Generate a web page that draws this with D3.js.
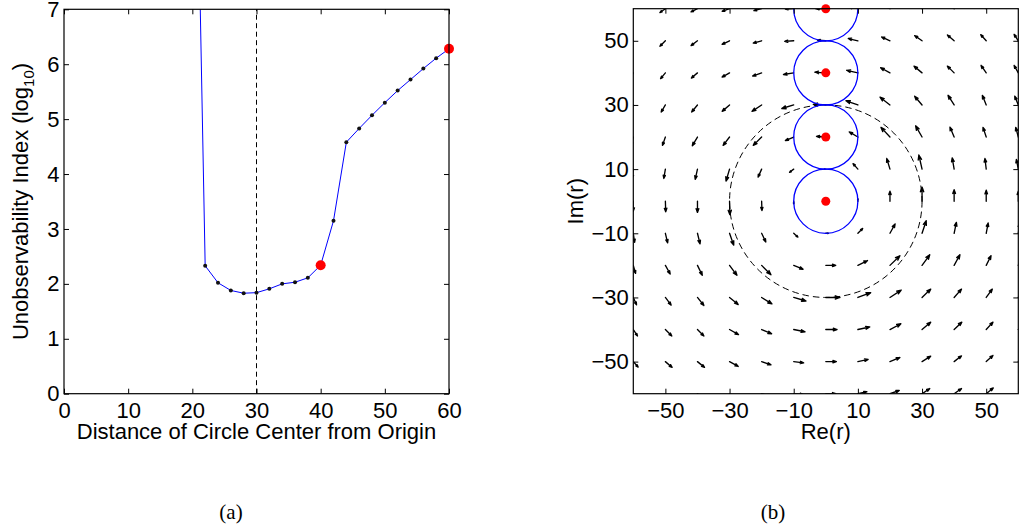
<!DOCTYPE html>
<html>
<head>
<meta charset="utf-8">
<script src="https://cdn.jsdelivr.net/npm/d3@7"></script>
<style>
  html, body { margin: 0; padding: 0; background: #fff; }
  svg { display: block; }
  text { font-family: "Liberation Sans", Arial, Helvetica, sans-serif; }
</style>
</head>
<body>
<svg id="fig" width="1019" height="529"></svg>
<script>
// ---------- (a) unobservability index vs. circle-center distance ----------
const distances = [20, 22, 24, 26, 28, 30, 32, 34, 36, 38, 40, 42, 44, 46, 48, 50, 52, 54, 56, 58, 60];
const logIndex  = [14.6, 2.33, 2.02, 1.88, 1.83, 1.84, 1.91, 2.00, 2.03, 2.11, 2.34, 3.15, 4.58, 4.83, 5.07, 5.30, 5.52, 5.72, 5.92, 6.11, 6.28];
const highlighted = [40, 60];
const referenceDistance = 30;
const xTicksA = [0, 10, 20, 30, 40, 50, 60];
const yTicksA = [0, 1, 2, 3, 4, 5, 6, 7];

// ---------- (b) vector field in the complex plane ----------
const gridRe = [-60, -50, -40, -30, -20, -10, 0, 10, 20, 30, 40, 50, 60];
const gridIm = [60, 50, 40, 30, 20, 10, 0, -10, -20, -30, -40, -50, -60];
// real component of each arrow, one row per Im value (top to bottom)
const fieldU = [
  [-1.6, -1.7, -2.0, -2.3, -2.4, -2.6, -3.1, -2.8, -2.4, -2.1, -1.9, -1.6, -1.3],
  [-1.5, -1.7, -2.0, -2.3, -2.6, -2.8, -2.6, -3.0, -2.6, -2.3, -2.1, -1.7, -1.3],
  [-1.2, -1.5, -1.9, -2.3, -2.8, -3.2, -3.4, -3.5, -2.9, -2.5, -2.1, -1.6, -1.3],
  [-1.0, -1.3, -1.8, -2.3, -3.0, -3.7, -3.9, -3.7, -3.1, -2.3, -1.9, -1.2, -1.1],
  [-0.7, -0.9, -1.6, -2.0, -2.6, -2.6, -2.9, -2.7, -2.8, -2.0, -1.3, -1.0, -0.8],
  [-0.4, -0.5, -0.7, -1.1, -1.1, -1.3, -0.5, -1.5, -1.0, -1.0, -0.6, -0.4, -0.6],
  [ 0.0,  0.1,  0.0,  0.1,  0.1,  0.0,  0.0,  0.0,  0.0,  0.0,  0.0,  0.0,  0.0],
  [ 0.4,  0.7,  0.8,  1.3,  1.3,  1.3,  0.8,  1.5,  1.6,  1.3,  0.7,  0.6,  0.5],
  [ 0.7,  1.5,  1.5,  2.3,  2.9,  2.9,  3.1,  3.0,  3.1,  2.4,  1.8,  1.5,  1.2],
  [ 1.0,  1.8,  2.0,  2.7,  3.2,  3.8,  4.4,  4.0,  3.5,  2.7,  2.3,  1.9,  1.7],
  [ 1.3,  2.0,  2.0,  2.8,  3.1,  3.5,  3.5,  3.7,  3.4,  2.7,  2.4,  2.1,  1.9],
  [ 1.5,  2.1,  2.2,  2.7,  2.9,  3.1,  3.3,  3.2,  3.1,  2.7,  2.3,  2.1,  2.0],
  [ 1.7,  2.1,  2.2,  2.6,  2.8,  3.0,  3.1,  2.8,  2.9,  2.4,  2.3,  2.2,  2.1]
];
// imaginary component of each arrow, same layout
const fieldV = [
  [-1.2, -1.2, -1.0, -0.8, -0.6, -0.1,  0.0,  0.5,  1.0,  1.3,  1.6,  1.7,  1.8],
  [-1.8, -1.7, -1.5, -1.1, -0.7, -0.2,  0.2,  0.7,  1.2,  1.6,  1.8,  1.9,  2.0],
  [-2.0, -1.8, -1.6, -1.3, -1.0, -0.5,  0.2,  0.8,  1.6,  2.1,  2.1,  2.3,  2.3],
  [-2.3, -2.2, -2.2, -2.0, -2.0, -1.1,  0.2,  1.3,  2.4,  2.7,  3.0,  3.0,  2.7],
  [-2.6, -2.6, -2.7, -2.6, -2.6, -1.1,  0.2,  1.6,  3.0,  3.5,  3.1,  3.0,  3.0],
  [-2.9, -2.9, -3.2, -3.7, -2.5, -1.0,  0.0,  1.7,  3.3,  4.4,  3.5,  3.3,  3.0],
  [-3.1, -3.3, -3.5, -4.2, -2.9, -0.8,  0.0,  0.8,  3.1,  4.4,  3.6,  3.4,  3.1],
  [-2.8, -3.0, -3.3, -3.7, -2.7, -1.2,  0.0,  1.5,  2.9,  3.9,  3.4,  3.2,  3.1],
  [-2.5, -2.7, -3.1, -3.1, -2.9, -1.2,  0.0,  1.5,  3.0,  3.3,  3.3,  3.0,  2.9],
  [-2.3, -2.4, -2.5, -2.2, -2.0, -1.1,  0.0,  1.5,  2.3,  2.6,  2.6,  2.6,  2.6],
  [-2.0, -2.0, -2.0, -1.6, -1.3, -0.7,  0.0,  0.8,  1.8,  2.3,  2.3,  2.3,  2.3],
  [-1.7, -1.8, -1.8, -1.5, -1.0, -0.4,  0.0,  0.7,  1.3,  1.7,  1.8,  1.9,  2.0],
  [-1.5, -1.6, -1.5, -1.2, -0.8, -0.3,  0.0,  0.6,  1.0,  1.6,  1.6,  1.8,  1.8]
];
const circleCentersIm = [0, 20, 40, 60];
const circleRadius = 10;
const boundaryRadius = 30;
const ticksB = [-50, -30, -10, 10, 30, 50];

const captions = ["(a)", "(b)"];

const svg = d3.select("#fig");
const FONT = 22;
const fmtB = d => (d < 0 ? "\u2212" + Math.abs(d) : String(d));

function styleAxis(g) {
  g.attr("font-size", null).attr("font-family", null);
  g.select(".domain").remove();
  g.selectAll(".tick line").attr("stroke", "#000").attr("stroke-width", 1);
  g.selectAll(".tick text").attr("fill", "#000").style("font-size", FONT + "px");
}

function drawFrame(x0, x1, y0, y1, xTicks, yTicks, xs, ys, fmt) {
  const gAx = svg.append("g");
  gAx.append("g").attr("transform", `translate(0,${y0})`)
    .call(d3.axisBottom(xs).tickValues(xTicks).tickSizeInner(-5).tickSizeOuter(0).tickPadding(8.7).tickFormat(fmt))
    .call(styleAxis);
  gAx.append("g").attr("transform", `translate(0,${y1})`)
    .call(d3.axisTop(xs).tickValues(xTicks).tickSizeInner(-5).tickSizeOuter(0).tickFormat(""))
    .call(styleAxis);
  gAx.append("g").attr("transform", `translate(${x0},0)`)
    .call(d3.axisLeft(ys).tickValues(yTicks).tickSizeInner(-5).tickSizeOuter(0).tickPadding(4.5).tickFormat(fmt))
    .call(styleAxis);
  gAx.append("g").attr("transform", `translate(${x1},0)`)
    .call(d3.axisRight(ys).tickValues(yTicks).tickSizeInner(-5).tickSizeOuter(0).tickFormat(""))
    .call(styleAxis);
  svg.append("rect")
    .attr("x", x0).attr("y", y1).attr("width", x1 - x0).attr("height", y0 - y1)
    .attr("fill", "none").attr("stroke", "#000").attr("stroke-width", 1.2);
}

// ================= panel (a) =================
const A = { x0: 64, x1: 449, y0: 393.7, y1: 9.3 };
const xA = d3.scaleLinear().domain([0, 60]).range([A.x0, A.x1]);
const yA = d3.scaleLinear().domain([0, 7]).range([A.y0, A.y1]);

svg.append("clipPath").attr("id", "clipA")
  .append("rect").attr("x", A.x0).attr("y", A.y1).attr("width", A.x1 - A.x0).attr("height", A.y0 - A.y1);

const plotA = svg.append("g").attr("clip-path", "url(#clipA)");
const ptsA = distances.map((d, i) => ({ d, v: logIndex[i] }));

plotA.append("line")
  .attr("x1", xA(referenceDistance)).attr("x2", xA(referenceDistance))
  .attr("y1", yA(0)).attr("y2", yA(7))
  .attr("stroke", "#000").attr("stroke-width", 1).attr("stroke-dasharray", "5,3.5");

plotA.append("path")
  .datum(ptsA)
  .attr("fill", "none").attr("stroke", "#0000ff").attr("stroke-width", 1)
  .attr("d", d3.line().x(p => xA(p.d)).y(p => yA(p.v)));

plotA.selectAll("circle.pt")
  .data(ptsA.filter(p => !highlighted.includes(p.d)))
  .join("circle").attr("class", "pt")
  .attr("cx", p => xA(p.d)).attr("cy", p => yA(p.v)).attr("r", 2)
  .attr("fill", "#111");

svg.selectAll("circle.hi")
  .data(ptsA.filter(p => highlighted.includes(p.d)))
  .join("circle").attr("class", "hi")
  .attr("cx", p => xA(p.d)).attr("cy", p => yA(p.v)).attr("r", 5)
  .attr("fill", "#ff0000");

drawFrame(A.x0, A.x1, A.y0, A.y1, xTicksA, yTicksA, xA, yA, d3.format("d"));

svg.append("text")
  .attr("x", (A.x0 + A.x1) / 2).attr("y", 439)
  .attr("text-anchor", "middle").style("font-size", FONT + "px")
  .text("Distance of Circle Center from Origin");

const yLabA = svg.append("text")
  .attr("transform", `translate(28,${(A.y0 + A.y1) / 2}) rotate(-90)`)
  .attr("text-anchor", "middle").style("font-size", FONT + "px");
yLabA.append("tspan").text("Unobservability Index (log");
yLabA.append("tspan").attr("dy", 6).style("font-size", "15px").text("10");
yLabA.append("tspan").attr("dy", -6).text(")");

// ================= panel (b) =================
const B = { x0: 633.3, x1: 1018.3, y0: 393.7, y1: 8.7 };
const xB = d3.scaleLinear().domain([-60, 60]).range([B.x0, B.x1]);
const yB = d3.scaleLinear().domain([-60, 60]).range([B.y0, B.y1]);

svg.append("clipPath").attr("id", "clipB")
  .append("rect").attr("x", B.x0).attr("y", B.y1).attr("width", B.x1 - B.x0).attr("height", B.y0 - B.y1);
const plotB = svg.append("g").attr("clip-path", "url(#clipB)");

// quiver arrows: shaft from grid point plus a two-stroke head
const arrows = [];
gridIm.forEach((im, r) => gridRe.forEach((re, c) => {
  arrows.push({ re, im, u: fieldU[r][c], v: fieldV[r][c] });
}));
const alpha = 0.33, beta = 0.36;
function arrowPath(a) {
  const x = a.re, y = a.im, u = a.u, v = a.v;
  if (u === 0 && v === 0) return "";
  const tx = x + u, ty = y + v;
  const h1x = tx - alpha * (u + beta * v), h1y = ty - alpha * (v - beta * u);
  const h2x = tx - alpha * (u - beta * v), h2y = ty - alpha * (v + beta * u);
  return `M${xB(x)},${yB(y)}L${xB(tx)},${yB(ty)}` +
         `M${xB(h1x)},${yB(h1y)}L${xB(tx)},${yB(ty)}L${xB(h2x)},${yB(h2y)}`;
}
plotB.append("g").selectAll("path")
  .data(arrows)
  .join("path")
  .attr("d", arrowPath)
  .attr("fill", "none").attr("stroke", "#000").attr("stroke-width", 1.35)
  .attr("stroke-linecap", "round").attr("stroke-linejoin", "round");

const rPx = xB(boundaryRadius) - xB(0);
plotB.append("circle")
  .attr("cx", xB(0)).attr("cy", yB(0)).attr("r", rPx)
  .attr("fill", "none").attr("stroke", "#000").attr("stroke-width", 1)
  .attr("stroke-dasharray", "6.5,4");

plotB.selectAll("circle.disk")
  .data(circleCentersIm)
  .join("circle").attr("class", "disk")
  .attr("cx", xB(0)).attr("cy", d => yB(d)).attr("r", xB(circleRadius) - xB(0))
  .attr("fill", "none").attr("stroke", "#0000ff").attr("stroke-width", 1.3);

svg.selectAll("circle.ctr")
  .data(circleCentersIm)
  .join("circle").attr("class", "ctr")
  .attr("cx", xB(0)).attr("cy", d => yB(d)).attr("r", 4.5)
  .attr("fill", "#ff0000");

drawFrame(B.x0, B.x1, B.y0, B.y1, ticksB, ticksB, xB, yB, fmtB);

svg.append("text")
  .attr("x", (B.x0 + B.x1) / 2).attr("y", 439)
  .attr("text-anchor", "middle").style("font-size", FONT + "px")
  .text("Re(r)");
svg.append("text")
  .attr("transform", `translate(583,${(B.y0 + B.y1) / 2}) rotate(-90)`)
  .attr("text-anchor", "middle").style("font-size", FONT + "px")
  .text("Im(r)");

// ---------- sub-figure captions ----------
svg.selectAll("text.cap")
  .data(captions)
  .join("text").attr("class", "cap")
  .attr("x", (d, i) => i === 0 ? 231 : 773).attr("y", 519)
  .attr("text-anchor", "middle")
  .style("font-family", "'Liberation Serif', 'DejaVu Serif', serif")
  .style("font-size", "21px")
  .text(d => d);
</script>
</body>
</html>
